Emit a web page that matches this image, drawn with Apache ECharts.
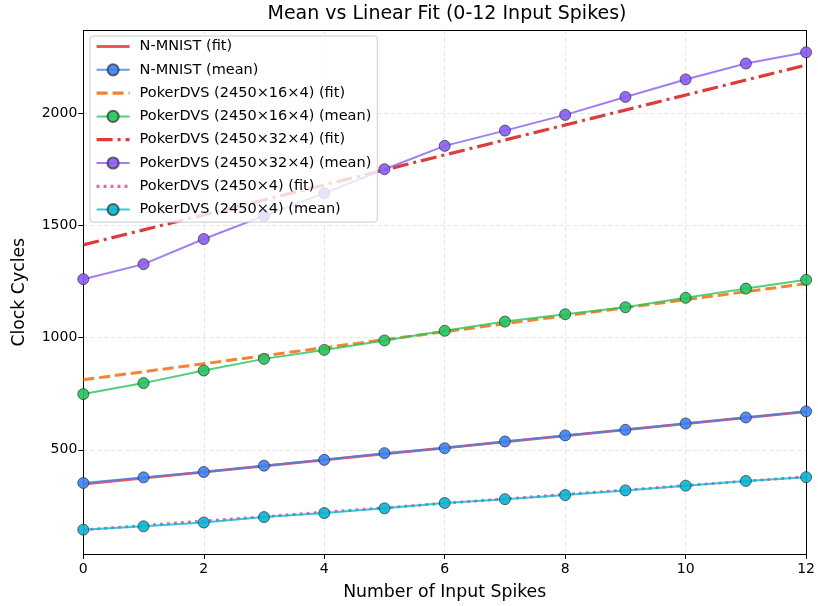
<!DOCTYPE html>
<html>
<head>
<meta charset="utf-8">
<script src="https://cdn.jsdelivr.net/npm/echarts@6/dist/echarts.min.js"></script>
<style>
  html, body { margin: 0; padding: 0; background: #fff; }
  #chart { width: 818px; height: 606px; }
</style>
</head>
<body>
<div id="chart"></div>
<script>
// Number of input spikes (x positions of the measured means)
const spikes = [0, 1, 2, 3, 4, 5, 6, 7, 8, 9, 10, 11, 12];
// Endpoints used for the linear fits
const fitX = [0, 12];

// Mean clock cycles per configuration
const nmnistMean = [352, 377, 401, 429, 455, 485, 507, 537, 564, 589, 617, 644, 671];
const poker16Mean = [748, 797, 853, 905, 945, 987, 1030, 1071, 1104, 1135, 1177, 1218, 1257];
const poker32Mean = [1260, 1327, 1439, 1542, 1643, 1750, 1854, 1922, 1992, 2072, 2150, 2221, 2271];
const poker4Mean = [144, 159, 176, 200, 218, 239, 263, 280, 298, 319, 340, 361, 378];

// Linear fit values at x = 0 and x = 12
const nmnistFit = [347, 670];
const poker16Fit = [812, 1240];
const poker32Fit = [1413, 2214];
const poker4Fit = [143, 380];

// Axis ticks
const yTicks = [500, 1000, 1500, 2000];

const FONT = 'DejaVu Sans';
const Y_MIN = 35.6, Y_MAX = 2368;

function pairs(xs, ys) { return xs.map((x, i) => [x, ys[i]]); }

function fitSeries(name, ys, color, type, width) {
  return {
    name, type: 'line', data: pairs(fitX, ys),
    symbol: 'none', showSymbol: false, silent: true,
    lineStyle: { color, width, type, cap: 'butt', opacity: 0.9 },
    itemStyle: { color, opacity: 0 },
    z: 2
  };
}

function meanSeries(name, ys, color) {
  return {
    name, type: 'line', data: pairs(spikes, ys),
    symbol: 'circle', symbolSize: 11, silent: true,
    lineStyle: { color, width: 2, opacity: 0.8 },
    itemStyle: { color, opacity: 0.9, borderColor: 'rgba(40,40,40,0.75)', borderWidth: 1 },
    z: 3
  };
}

const series = [
  fitSeries('N-MNIST (fit)', nmnistFit, '#ef4444', 'solid', 2.8),
  meanSeries('N-MNIST (mean)', nmnistMean, '#3b82f6'),
  fitSeries('PokerDVS (2450×16×4) (fit)', poker16Fit, '#f97316', [11, 5], 3),
  meanSeries('PokerDVS (2450×16×4) (mean)', poker16Mean, '#22c55e'),
  fitSeries('PokerDVS (2450×32×4) (fit)', poker32Fit, '#dc2626', [16, 5, 3, 5], 3.2),
  meanSeries('PokerDVS (2450×32×4) (mean)', poker32Mean, '#8b5cf6'),
  fitSeries('PokerDVS (2450×4) (fit)', poker4Fit, '#ec4899', [2.8, 4.2], 2.8),
  meanSeries('PokerDVS (2450×4) (mean)', poker4Mean, '#06b6d4')
];

// Fit entries show only their (thicker) line in the legend; marker made transparent
const legendData = series.map(s => s.symbol === 'none'
  ? { name: s.name, itemStyle: { opacity: 0, borderWidth: 0 }, lineStyle: { width: 3.2 } }
  : { name: s.name });

// Plain frame axes for the top and right edges of the plot box
const frameLine = { show: true, onZero: false, lineStyle: { color: '#000', width: 1 } };

const chart = echarts.init(document.getElementById('chart'), null, { renderer: 'canvas' });
chart.setOption({
  animation: false,
  backgroundColor: '#fff',
  title: {
    text: 'Mean vs Linear Fit (0-12 Input Spikes)',
    left: 447, top: 5, padding: 0, textAlign: 'center',
    textStyle: { fontFamily: FONT, fontSize: 19, fontWeight: 'normal', color: '#000' }
  },
  grid: { left: 83.3, right: 7.5, top: 30.5, bottom: 51.7, show: false },
  legend: {
    orient: 'vertical', left: 90, top: 36,
    padding: [3, 6, 5, 5],
    itemWidth: 33, itemHeight: 14, itemGap: 8.3,
    backgroundColor: 'rgba(255,255,255,0.8)',
    borderColor: '#cccccc', borderWidth: 1, borderRadius: 3,
    textStyle: { fontFamily: FONT, fontSize: 14.5, color: '#000', padding: [0, 0, 0, 5] },
    data: legendData
  },
  xAxis: [{
    type: 'value', min: 0, max: 12, interval: 2,
    name: 'Number of Input Spikes', nameLocation: 'middle', nameGap: 30,
    nameTextStyle: { fontFamily: FONT, fontSize: 17.3, color: '#000' },
    axisLine: frameLine,
    axisTick: { show: true, length: 5, lineStyle: { color: '#000' } },
    axisLabel: { fontFamily: FONT, fontSize: 14, color: '#000', margin: 8 },
    splitLine: { show: true, lineStyle: { color: '#e3e3e3', type: [4, 3], width: 1 } }
  }, {
    type: 'value', position: 'top', min: 0, max: 12,
    axisLine: frameLine, axisTick: { show: false }, axisLabel: { show: false }, splitLine: { show: false }
  }],
  yAxis: [{
    type: 'value', min: Y_MIN, max: Y_MAX,
    name: 'Clock Cycles', nameLocation: 'middle', nameGap: 55, nameRotate: 90,
    nameTextStyle: { fontFamily: FONT, fontSize: 17.3, color: '#000' },
    axisLine: frameLine,
    axisTick: { show: true, length: 5, customValues: yTicks, lineStyle: { color: '#000' } },
    axisLabel: { fontFamily: FONT, fontSize: 14, color: '#000', margin: 6, customValues: yTicks,
                 formatter: v => String(v) },
    splitLine: { show: true, lineStyle: { color: '#e3e3e3', type: [4, 3], width: 1 } }
  }, {
    type: 'value', position: 'right', min: Y_MIN, max: Y_MAX,
    axisLine: frameLine, axisTick: { show: false }, axisLabel: { show: false }, splitLine: { show: false }
  }],
  series
});
</script>
</body>
</html>
